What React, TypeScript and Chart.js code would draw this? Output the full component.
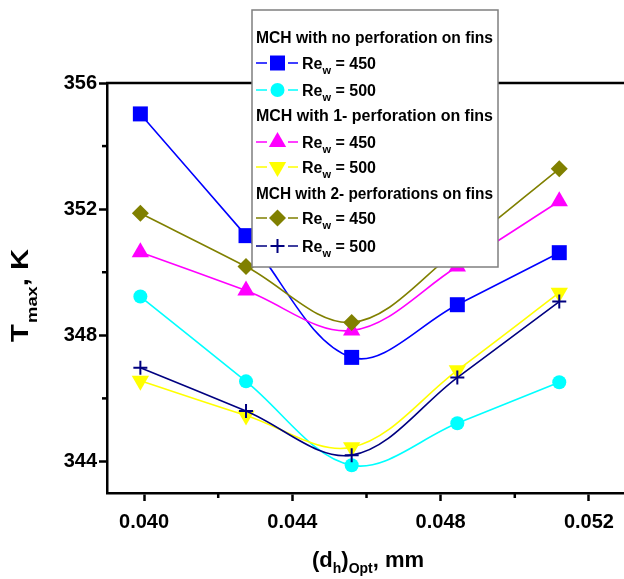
import React, { useEffect, useRef } from 'react';
import { Chart, registerables } from 'chart.js';
import { drawPoint } from 'chart.js/helpers';

Chart.register(...registerables);

// ---- data ----
const dh = [0.0399, 0.04275, 0.0456, 0.04845, 0.0512];
const noPerf450 = [355.02, 351.16, 347.3, 348.97, 350.62];
const noPerf500 = [349.23, 346.54, 343.88, 345.21, 346.51];
const onePerf450 = [350.63, 349.42, 348.15, 350.18, 352.25];
const onePerf500 = [346.56, 345.46, 344.45, 346.89, 349.35];
const twoPerf450 = [351.87, 350.18, 348.41, 350.7, 353.28];
const twoPerf500 = [346.97, 345.6, 344.2, 346.66, 349.07];

const yTicks = [344, 348, 352, 356];
const yMinorTicks = [346, 350, 354];
const xTicks = [0.04, 0.044, 0.048, 0.052];
const xMinorTicks = [0.042, 0.046, 0.05];

const legendHeaders = [
  'MCH with no perforation on fins',
  'MCH with 1- perforation on fins',
  'MCH with 2- perforations on fins',
];
const reValues = ['450', '500'];

const FONT = '"Liberation Sans", Arial, sans-serif';

type SeriesStyle = {
  data: number[];
  color: string;
  pointStyle: string;
  radius: number;
  rotation: number;
  stroke: boolean;
};

const series: SeriesStyle[] = [
  { data: noPerf450, color: '#0000FF', pointStyle: 'rect', radius: 10.6, rotation: 0, stroke: false },
  { data: noPerf500, color: '#00FFFF', pointStyle: 'circle', radius: 7, rotation: 0, stroke: false },
  { data: onePerf450, color: '#FF00FF', pointStyle: 'triangle', radius: 10, rotation: 0, stroke: false },
  { data: onePerf500, color: '#FFFF00', pointStyle: 'triangle', radius: 10, rotation: 180, stroke: false },
  { data: twoPerf450, color: '#808000', pointStyle: 'rectRot', radius: 8.5, rotation: 0, stroke: false },
  { data: twoPerf500, color: '#000080', pointStyle: 'cross', radius: 7, rotation: 0, stroke: true },
];

const decorPlugin = {
  id: 'decor',
  afterDraw(chart: any) {
    const ctx: CanvasRenderingContext2D = chart.ctx;
    const area = chart.chartArea;
    const xs = chart.scales.x;
    const ys = chart.scales.y;
    ctx.save();
    // top border
    ctx.strokeStyle = '#000';
    ctx.lineWidth = 2.5;
    ctx.beginPath();
    ctx.moveTo(area.left - 1, area.top);
    ctx.lineTo(area.right, area.top);
    ctx.stroke();
    // minor ticks
    ctx.lineWidth = 2.5;
    yMinorTicks.forEach((v) => {
      const py = ys.getPixelForValue(v);
      ctx.beginPath();
      ctx.moveTo(area.left, py);
      ctx.lineTo(area.left - 5, py);
      ctx.stroke();
    });
    xMinorTicks.forEach((v) => {
      const px = xs.getPixelForValue(v);
      ctx.beginPath();
      ctx.moveTo(px, area.bottom);
      ctx.lineTo(px, area.bottom + 5);
      ctx.stroke();
    });

    // y title: T_max, K (rotated)
    ctx.fillStyle = '#000';
    ctx.save();
    ctx.translate(0, 342);
    ctx.rotate(-Math.PI / 2);
    ctx.scale(1.22, 1);
    ctx.textBaseline = 'alphabetic';
    ctx.textAlign = 'left';
    ctx.font = `bold 24px ${FONT}`;
    ctx.fillText('T', 0, 28);
    let cx = ctx.measureText('T').width + 1;
    ctx.font = `bold 15px ${FONT}`;
    ctx.fillText('max', cx, 37);
    cx += ctx.measureText('max').width;
    ctx.font = `bold 24px ${FONT}`;
    ctx.fillText(', K', cx, 28);
    ctx.restore();

    // x title: (d_h)_Opt, mm
    ctx.textBaseline = 'alphabetic';
    ctx.textAlign = 'left';
    let tx = 312;
    const main = `bold 22px ${FONT}`;
    const sub = `bold 14px ${FONT}`;
    const parts: [string, boolean][] = [['(d', false], ['h', true], [')', false], ['Opt', true], [', mm', false]];
    parts.forEach(([t, isSub]) => {
      ctx.font = isSub ? sub : main;
      ctx.fillText(t, tx, isSub ? 573 : 567);
      tx += ctx.measureText(t).width;
    });

    // legend
    const lx = 252, ly = 10, lw = 246, lh = 257;
    ctx.fillStyle = '#fff';
    ctx.fillRect(lx, ly, lw, lh);
    ctx.strokeStyle = '#7f7f7f';
    ctx.lineWidth = 1.5;
    ctx.strokeRect(lx, ly, lw, lh);
    const headerY = [37, 115, 193];
    const rowY = [
      [63, 90],
      [142, 167],
      [218, 246],
    ];
    legendHeaders.forEach((h, gi) => {
      ctx.fillStyle = '#000';
      ctx.font = `bold 16px ${FONT}`;
      ctx.fillText(h, 256, headerY[gi] + 6, 237);
      reValues.forEach((re, ri) => {
        const s = series[gi * 2 + ri];
        const cy = rowY[gi][ri];
        ctx.strokeStyle = s.color;
        ctx.lineWidth = 1.6;
        ctx.beginPath();
        ctx.moveTo(256, cy);
        ctx.lineTo(267, cy);
        ctx.moveTo(288, cy);
        ctx.lineTo(298, cy);
        ctx.stroke();
        ctx.fillStyle = s.color;
        ctx.strokeStyle = s.color;
        ctx.lineWidth = s.stroke ? 2 : 0;
        drawPoint(ctx, {
          pointStyle: s.pointStyle as any,
          radius: s.radius,
          rotation: s.rotation,
          borderWidth: s.stroke ? 2 : 0,
        }, 277.5, cy);
        ctx.fillStyle = '#000';
        ctx.font = `bold 16px ${FONT}`;
        let rx = 302;
        ctx.fillText('Re', rx, cy + 6);
        rx += ctx.measureText('Re').width;
        ctx.font = `bold 11px ${FONT}`;
        ctx.fillText('w', rx, cy + 11);
        rx += ctx.measureText('w').width;
        ctx.font = `bold 16px ${FONT}`;
        ctx.fillText(' = ' + re, rx, cy + 6);
      });
    });
    ctx.restore();
  },
};

export default function App() {
  const ref = useRef<HTMLCanvasElement | null>(null);
  useEffect(() => {
    if (!ref.current) return;
    const datasets = series.map((s, i) => ({
      data: dh.map((x, j) => ({ x, y: s.data[j] })),
      borderColor: s.color,
      backgroundColor: s.color,
      borderWidth: 1.6,
      tension: 0.35,
      pointStyle: s.pointStyle,
      pointRadius: s.radius,
      pointRotation: s.rotation,
      pointBackgroundColor: s.color,
      pointBorderColor: s.color,
      pointBorderWidth: s.stroke ? 2 : 0,
      order: series.length - i,
    }));
    const chart = new Chart(ref.current, {
      type: 'line',
      data: { datasets },
      plugins: [decorPlugin],
      options: {
        animation: false,
        responsive: false,
        events: [],
        layout: { padding: { top: 83, right: 14, left: 0, bottom: 0 } },
        plugins: {
          legend: { display: false },
          tooltip: { enabled: false },
        },
        scales: {
          x: {
            type: 'linear',
            min: 0.039,
            max: 0.053,
            afterFit: (s: any) => {
              s.height = 86;
            },
            afterBuildTicks: (s: any) => {
              s.ticks = xTicks.map((v) => ({ value: v }));
            },
            ticks: {
              callback: (v: any) => Number(v).toFixed(3),
              font: { family: FONT, size: 20, weight: 'bold' },
              color: '#000',
              padding: 9,
              maxRotation: 0,
              autoSkip: false,
            },
            grid: {
              drawOnChartArea: false,
              drawTicks: true,
              tickLength: 8,
              tickWidth: 2.5,
              tickColor: '#000',
            },
            border: { display: true, color: '#000', width: 2.5 },
          },
          y: {
            type: 'linear',
            min: 343,
            max: 356,
            afterFit: (s: any) => {
              s.width = 107;
            },
            afterBuildTicks: (s: any) => {
              s.ticks = yTicks.map((v) => ({ value: v }));
            },
            ticks: {
              font: { family: FONT, size: 20, weight: 'bold' },
              color: '#000',
              padding: 2,
              autoSkip: false,
            },
            grid: {
              drawOnChartArea: false,
              drawTicks: true,
              tickLength: 8,
              tickWidth: 2.5,
              tickColor: '#000',
            },
            border: { display: true, color: '#000', width: 2.5 },
          },
        },
      } as any,
    });
    return () => chart.destroy();
  }, []);
  return (
    <div
      style={{
        position: 'fixed',
        left: 0,
        top: 0,
        width: 624,
        height: 579,
        overflow: 'hidden',
        background: '#fff',
      }}
    >
      <canvas ref={ref} width={640} height={579} style={{ display: 'block' }} />
    </div>
  );
}
